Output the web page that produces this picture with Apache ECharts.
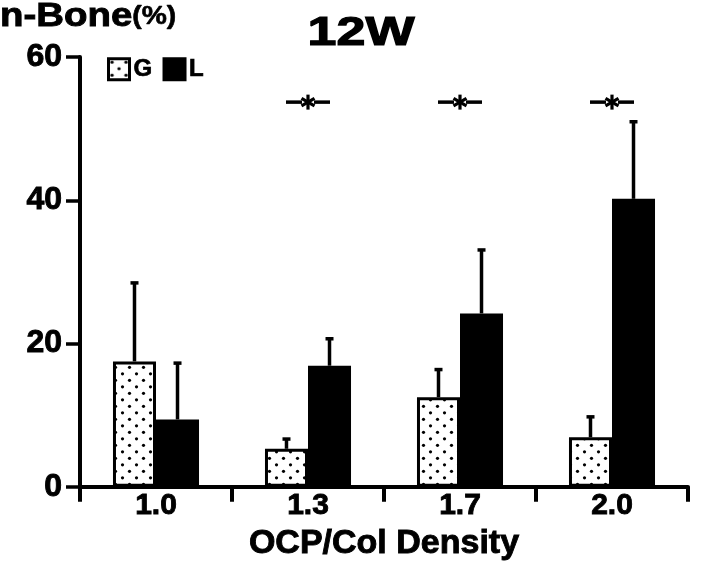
<!DOCTYPE html>
<html>
<head>
<meta charset="utf-8">
<script src="https://cdn.jsdelivr.net/npm/echarts@6/dist/echarts.min.js"></script>
<style>
html,body{margin:0;padding:0;background:#fff;}
#chart{width:709px;height:566px;}
</style>
</head>
<body>
<div id="chart"></div>
<script>
var categories = ['1.0', '1.3', '1.7', '2.0'];
var gMean = [17.5, 5.3, 12.5, 6.9];
var gErr = [11.1, 1.5, 4.0, 3.0];
var lMean = [9.4, 16.9, 24.2, 40.2];
var lErr = [8.0, 3.9, 9.0, 10.9];
var sigFlags = [0, 1, 1, 1];
var sigLevel = 53.7;
var yTicks = [0, 20, 40, 60];

var FONT = '"Liberation Sans", Arial, Helvetica, sans-serif';

// dotted pattern
var pc = document.createElement('canvas');
pc.width = 14; pc.height = 13;
var ctx = pc.getContext('2d');
ctx.fillStyle = '#fff';
ctx.fillRect(0, 0, 14, 13);
ctx.fillStyle = '#000';
ctx.beginPath(); ctx.arc(3.5, 3.3, 1.6, 0, Math.PI * 2); ctx.fill();
ctx.beginPath(); ctx.arc(10.5, 9.8, 1.6, 0, Math.PI * 2); ctx.fill();
var dotted = { image: pc, repeat: 'repeat' };

var BAR_FRAC = 0.283;
var heavy = { textBorderColor: '#000', textBorderWidth: 0.9 };

function errData(means, errs) {
  return means.map(function (m, i) { return [i, m, errs[i]]; });
}
function makeErrRender(side) {
  return function (params, api) {
    var i = api.value(0), m = api.value(1), e = api.value(2);
    var band = api.size([1, 0])[0];
    var off = side * band * BAR_FRAC / 2;
    var p0 = api.coord([i, m]);
    var p1 = api.coord([i, m + e]);
    var x = p0[0] + off;
    return {
      type: 'group',
      children: [
        { type: 'line', shape: { x1: x, y1: p0[1], x2: x, y2: p1[1] + 1 }, style: { stroke: '#000', lineWidth: 3.5 } },
        { type: 'line', shape: { x1: x - 4, y1: p1[1] + 1, x2: x + 4, y2: p1[1] + 1 }, style: { stroke: '#000', lineWidth: 3.5 } }
      ]
    };
  };
}

var sigData = [];
sigFlags.forEach(function (f, i) { if (f) sigData.push([i, sigLevel]); });

function sigRender(params, api) {
  var p = api.coord([api.value(0), api.value(1)]);
  var x = p[0], y = p[1];
  var r = 7.5;
  var ch = [
    { type: 'line', shape: { x1: x - 22, y1: y, x2: x - 6, y2: y }, style: { stroke: '#000', lineWidth: 3.5 } },
    { type: 'line', shape: { x1: x + 6, y1: y, x2: x + 22, y2: y }, style: { stroke: '#000', lineWidth: 3.5 } }
  ];
  [90, 30, 150].forEach(function (deg) {
    var a = deg * Math.PI / 180;
    ch.push({ type: 'line', shape: { x1: x - r * Math.cos(a), y1: y - r * Math.sin(a), x2: x + r * Math.cos(a), y2: y + r * Math.sin(a) }, style: { stroke: '#000', lineWidth: 3.2 } });
  });
  return { type: 'group', children: ch };
}

var chart = echarts.init(document.getElementById('chart'), null, { renderer: 'canvas' });
chart.setOption({
  backgroundColor: '#fff',
  animation: false,
  grid: { left: 80, right: 21, top: 57, bottom: 77, containLabel: false },
  graphic: [
    { type: 'text', x: 361, y: 14, scaleX: 1.3, style: { text: '12W', fill: '#000', font: 'bold 40px ' + FONT, textAlign: 'center', textVerticalAlign: 'top', stroke: '#000', lineWidth: 1.2 } },
    { type: 'text', x: 0, y: -1, scaleX: 1.13, style: {
        text: '{a|n-Bone}{b|(%)}', fill: '#000', textVerticalAlign: 'top',
        rich: {
          a: { fontFamily: FONT, fontWeight: 'bold', fontSize: 34, fill: '#000', lineHeight: 36, stroke: '#000', lineWidth: 0.9 },
          b: { fontFamily: FONT, fontWeight: 'bold', fontSize: 25, fill: '#000', lineHeight: 36, stroke: '#000', lineWidth: 0.6 }
        } } }
  ],
  legend: {
    left: 107, top: 57, padding: 0,
    itemWidth: 21, itemHeight: 21, itemGap: 10,
    icon: 'rect',
    itemStyle: { borderWidth: 3, borderColor: '#000' },
    textStyle: { fontFamily: FONT, fontWeight: 'bold', fontSize: 24, color: '#000', padding: [0, 0, 0, -1], textBorderColor: '#000', textBorderWidth: 0.7 },
    data: ['G', 'L']
  },
  xAxis: {
    type: 'category',
    data: categories,
    axisLine: { lineStyle: { color: '#000', width: 4 } },
    axisTick: { show: true, inside: false, length: 15, lineStyle: { color: '#000', width: 4 } },
    axisLabel: Object.assign({ color: '#000', fontFamily: FONT, fontWeight: 'bold', fontSize: 30, margin: 4 }, heavy),
    name: 'OCP/Col Density',
    nameLocation: 'middle',
    nameGap: 25,
    nameTextStyle: Object.assign({ color: '#000', fontFamily: FONT, fontWeight: 'bold', fontSize: 34, verticalAlign: 'top' }, heavy)
  },
  yAxis: {
    type: 'value',
    min: 0, max: 60, interval: 20,
    axisLine: { show: true, lineStyle: { color: '#000', width: 4 } },
    axisTick: { show: true, inside: false, length: 14, lineStyle: { color: '#000', width: 3.5 } },
    axisLabel: Object.assign({ color: '#000', fontFamily: FONT, fontWeight: 'bold', fontSize: 32, margin: 18,
      formatter: function (v) { return yTicks.indexOf(v) >= 0 ? String(v) : ''; } }, heavy),
    splitLine: { show: false }
  },
  series: [
    { name: 'G', type: 'bar', data: gMean, barWidth: (BAR_FRAC * 100) + '%', barGap: '0%',
      itemStyle: { color: dotted, borderColor: '#000', borderWidth: 3 }, z: 2 },
    { name: 'L', type: 'bar', data: lMean, barWidth: (BAR_FRAC * 100) + '%', barGap: '0%',
      itemStyle: { color: '#000', borderColor: '#000', borderWidth: 0 }, z: 2 },
    { name: 'Gerr', type: 'custom', renderItem: makeErrRender(-1), data: errData(gMean, gErr), z: 3, silent: true },
    { name: 'Lerr', type: 'custom', renderItem: makeErrRender(1), data: errData(lMean, lErr), z: 3, silent: true },
    { name: 'sig', type: 'custom', renderItem: sigRender, data: sigData, z: 3, silent: true }
  ]
});
</script>
</body>
</html>
